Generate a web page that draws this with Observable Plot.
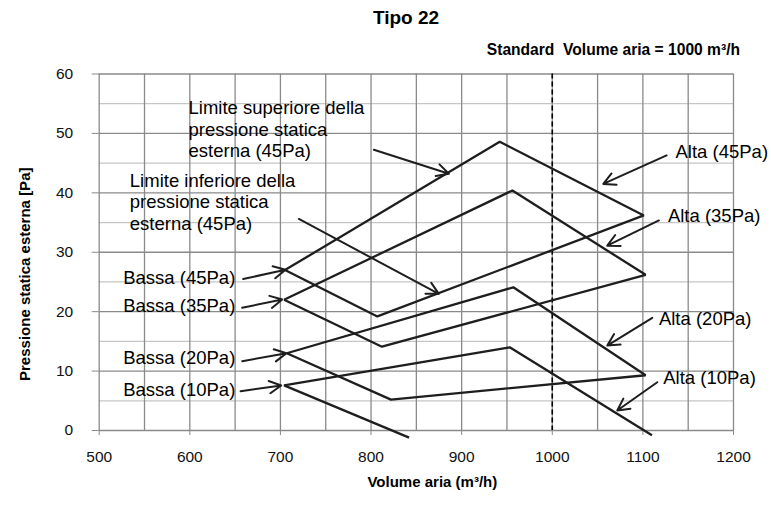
<!DOCTYPE html>
<html><head><meta charset="utf-8">
<script src="https://cdn.jsdelivr.net/npm/d3@7"></script>
<script src="https://cdn.jsdelivr.net/npm/@observablehq/plot@0.6"></script>
<style>
body{margin:0;background:#fff;}
#wrap{position:relative;width:771px;height:506px;font-family:Arial,"Liberation Sans",sans-serif;background:#fff;}
#chart{position:absolute;left:0;top:0;}
#title{position:absolute;left:304px;width:204px;top:8px;text-align:center;font-weight:bold;font-size:19px;line-height:20px;color:#000;}
#subtitle{position:absolute;right:31px;top:42px;font-weight:bold;font-size:15.6px;line-height:16px;color:#000;white-space:nowrap;}
</style></head>
<body>
<div id="wrap"><div id="chart"></div><div id="title">Tipo 22</div><div id="subtitle">Standard&nbsp; Volume aria = 1000 m³/h</div></div>
<script>
// ---- axes / ticks ----
const xTicks = [500, 600, 700, 800, 900, 1000, 1100, 1200];
const xGrid = [500, 550, 600, 650, 700, 750, 800, 850, 900, 950, 1000, 1050, 1100, 1150, 1200];
const yTicks = [0, 10, 20, 30, 40, 50, 60];
const yMinor = [5, 15, 25, 35, 45, 55];
const standardVolume = [1000];

// ---- curves (Volume aria, Pressione) ----
const seriesNames = ["45Pa", "35Pa", "20Pa", "10Pa"];
const c45x = [705, 942, 1101, 807, 705];
const c45y = [27.0, 48.6, 36.2, 19.2, 27.0];
const c35x = [704, 956, 1103, 812, 704];
const c35y = [22.0, 40.4, 26.2, 14.1, 22.0];
const c20x = [707, 957, 1103, 822, 707];
const c20y = [13.0, 24.1, 9.3, 5.2, 13.0];
const c10x = [1110, 953, 704, 842];
const c10y = [-0.8, 14.0, 7.6, -1.2];

// ---- callout labels ----
const labelText = [
  "Limite superiore della\npressione statica\nesterna (45Pa)",
  "Limite inferiore della\npressione statica\nesterna (45Pa)",
  "Bassa (45Pa)", "Bassa (35Pa)", "Bassa (20Pa)", "Bassa (10Pa)",
  "Alta (45Pa)", "Alta (35Pa)", "Alta (20Pa)", "Alta (10Pa)"
];
const labelX = [598.6, 533.8, 526.5, 526.5, 526.5, 526.5, 1136, 1127.6, 1117.7, 1122.5];
const labelY = [50.8, 38.55, 25.8, 21.04, 12.34, 7.02, 46.97, 36.2, 18.97, 8.97];

// ---- arrows ----
const arrowX1 = [803.1, 720.3, 658.9, 657.8, 657.8, 656.0, 1126.2, 1117.7, 1110.4, 1115.9];
const arrowY1 = [47.25, 35.6, 25.5, 20.66, 11.67, 6.62, 46.3, 35.35, 18.97, 8.13];
const arrowX2 = [885.9, 874.8, 705.6, 702.0, 706.7, 700.9, 1056.3, 1060.7, 1060.7, 1071.7];
const arrowY2 = [43.2, 23.0, 27.05, 22.05, 13.0, 7.58, 41.5, 31.1, 14.3, 3.37];

const curveRows = [];
[[seriesNames[0], c45x, c45y], [seriesNames[1], c35x, c35y], [seriesNames[2], c20x, c20y], [seriesNames[3], c10x, c10y]]
  .forEach(([s, xs, ys]) => xs.forEach((x, i) => curveRows.push({s, x, y: ys[i]})));

const ink = "#1e1e1e";
const gridDark = "#8a8a8a";
const gridLight = "#c6c6c6";

const chart = Plot.plot({
  width: 771,
  height: 506,
  marginTop: 73.5,
  marginBottom: 76,
  marginLeft: 98.7,
  marginRight: 38,
  x: {domain: [500, 1200]},
  y: {domain: [0, 60]},
  style: {fontFamily: "Arial, 'Liberation Sans', sans-serif", background: "transparent", overflow: "visible"},
  marks: [
    Plot.gridY(yMinor, {stroke: gridLight, strokeOpacity: 1, strokeWidth: 1.3}),
    Plot.gridX(xGrid, {stroke: gridDark, strokeOpacity: 1, strokeWidth: 1.3}),
    Plot.gridY(yTicks, {stroke: gridDark, strokeOpacity: 1, strokeWidth: 1.3}),
    Plot.axisX(xTicks, {tickSize: 5, tickPadding: 15, fontSize: 15.5, stroke: gridDark, fill: "#111", label: null, tickFormat: d => String(d)}),
    Plot.axisY(yTicks, {tickSize: 7, tickPadding: 19, fontSize: 15.5, stroke: gridDark, fill: "#111", label: null, tickFormat: d => String(d)}),
    Plot.ruleX(standardVolume, {stroke: "#000", strokeWidth: 1.6, strokeDasharray: "5,3"}),
    Plot.text(labelText, {x: labelX, y: labelY, text: d => d, textAnchor: "start", lineAnchor: "middle",
      fontSize: 18.5, lineHeight: 1.17, fill: "#000", ariaLabel: "callout"}),
    Plot.line(curveRows, {x: "x", y: "y", z: "s", stroke: ink, strokeWidth: 2.3, strokeLinejoin: "miter", strokeLinecap: "butt"}),
    Plot.arrow(arrowX1, {x1: arrowX1, y1: arrowY1, x2: arrowX2, y2: arrowY2, stroke: ink, strokeWidth: 2, headLength: 10, headAngle: 55}),
    Plot.text(["Volume aria (m³/h)"], {frameAnchor: "bottom", dx: 16, dy: 52, lineAnchor: "middle", fontSize: 15, fontWeight: "bold", fill: "#000"}),
    Plot.text(["Pressione statica esterna [Pa]"], {frameAnchor: "left", rotate: -90, dx: -73.7, dy: 22, lineAnchor: "middle", textAnchor: "middle", fontSize: 15, fontWeight: "bold", fill: "#000"})
  ]
});
document.getElementById("chart").appendChild(chart);

// white label boxes behind callout texts
chart.querySelectorAll('g[aria-label="callout"] text').forEach(t => {
  const b = t.getBBox();
  const r = document.createElementNS("http://www.w3.org/2000/svg", "rect");
  r.setAttribute("x", b.x - 3);
  r.setAttribute("y", b.y + 1);
  r.setAttribute("width", b.width + 6);
  r.setAttribute("height", b.height - 2);
  r.setAttribute("fill", "white");
  const tr = t.getAttribute("transform");
  if (tr) r.setAttribute("transform", tr);
  t.parentNode.insertBefore(r, t.parentNode.firstChild);
});
</script>
</body></html>
